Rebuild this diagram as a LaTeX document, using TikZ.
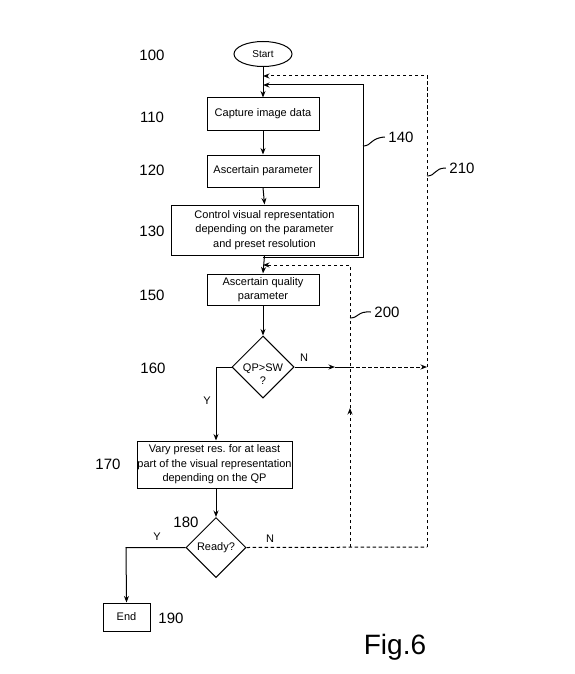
\documentclass[tikz,border=0pt]{standalone}
\usepackage{fontspec}
\setmainfont{Liberation Sans}
\usetikzlibrary{arrows.meta,shapes.geometric}
\begin{document}
\begin{tikzpicture}[x=1pt,y=-1pt,
  ln/.style={line width=1pt},
  arr/.style={ln,-{Stealth[length=6.5pt,width=5pt]}},
  dsh/.style={ln,dash pattern=on 3.5pt off 2.5pt},
  darr/.style={dsh,-{Stealth[length=6.5pt,width=5pt]}},
  box/.style={draw,ln,inner sep=0pt,align=center,font=\fontsize{11}{14.5}\selectfont},
  dia/.style={draw,ln,diamond,inner sep=-20pt,minimum width=#1,minimum height=#1},
  num/.style={font=\fontsize{15}{17}\selectfont},
  txt/.style={font=\fontsize{11}{13}\selectfont,inner sep=0pt,align=center}]
\useasboundingbox (0,0) rectangle (574,674);
% nodes
\node[draw,ln,ellipse,minimum width=58,minimum height=25,inner sep=0pt,font=\fontsize{10}{12}\selectfont] (start) at (263,54) {Start};
\node[box,minimum width=112,minimum height=32] (n110) at (263,114) {Capture image data};
\node[box,minimum width=112,minimum height=32] (n120) at (263,171) {Ascertain parameter};
\node[box,minimum width=187,minimum height=50] (n130) at (264.5,230) {Control visual representation\\depending on the parameter\\and preset resolution};
\node[box,minimum width=112,minimum height=31] (n150) at (263,289.5) {Ascertain quality\\parameter};
\node[dia=62] (d160) at (263,367) {};
\node[txt] (t160) at (263,374) {QP>SW\\?};
\node[box,minimum width=155,minimum height=47] (n170) at (214.5,464.5) {Vary preset res.\ for at least\\part of the visual representation\\depending on the QP};
\node[dia=60] (d180) at (216,547.5) {};
\node[txt] (t180) at (216,548) {Ready?};
\node[box,minimum width=47,minimum height=28] (n190) at (126.5,617) {End};
% reference numbers
\node[num] (l100) at (152,55) {100};
\node[num] (l110) at (152,117) {110};
\node[num] (l120) at (152,170) {120};
\node[num] (l130) at (152,231) {130};
\node[num] (l150) at (152,295) {150};
\node[num] (l160) at (153,368) {160};
\node[num] (l170) at (108,464) {170};
\node[num] (l180) at (186,522) {180};
\node[num] (l190) at (171,618) {190};
\node[num] (l140) at (401,137) {140};
\node[num] (l210) at (462,168) {210};
\node[num] (l200) at (387,312) {200};
\node[font=\fontsize{28}{30}\selectfont] (fig) at (395,647) {Fig.6};
% Y / N
\node[txt] (y160) at (207,401) {Y};
\node[txt] (n160) at (304,358) {N};
\node[txt] (y180) at (157,537) {Y};
\node[txt] (n180) at (270,539) {N};
% junction coordinates
\coordinate (j76) at (263,76);
\coordinate (j85) at (263,85);
\coordinate (j257) at (263,257);
\coordinate (j265) at (263,265);
\coordinate (c140a) at (363,257);
\coordinate (c140b) at (363,85);
\coordinate (c210a) at (427,76);
\coordinate (c210m) at (427,367);
\coordinate (c210b) at (427,547);
\coordinate (c200a) at (350,265);
\coordinate (c200m) at (350,367);
\coordinate (c200b) at (350,547);
\coordinate (c200arr) at (350,408);
\coordinate (cN) at (335,367);
\coordinate (cY1) at (216,367);
\coordinate (cY2) at (126,547.5);
% main flow
\draw[arr] (start.south) -- (n110.north);
\draw[arr] (n110.south) -- (n120.north);
\draw[arr] (n120.south) -- (n130.north);
\draw[arr] (n130.south) -- (n150.north);
\draw[arr] (n150.south) -- (d160.north);
\draw[arr] (d160.west) -- (cY1) -- (n170.north -| cY1);
\draw[arr] (n170.south -| d180.north) -- (d180.north);
\draw[arr] (d180.west) -- (cY2) -- (n190.north);
% loop 140
\draw[arr] (j257) -- (c140a) -- (c140b) -- (j85);
% N of 160
\draw[arr] (d160.east) -- (cN);
\draw[ln] (cN) -- (c200m);
\draw[darr] (c200m) -- (c210m);
% N of 180, loops 200 and 210
\draw[dsh] (d180.east) -- (c210b);
\draw[darr] (c210b) -- (c210a) -- (j76);
\draw[darr] (c200b) -- (c200arr);
\draw[darr] (c200arr) -- (c200a) -- (j265);
% leader ticks
\draw[ln] (363,146) .. controls (372,146) and (370,138) .. (l140.west);
\draw[ln] (427,176) .. controls (436,176) and (434,168) .. (l210.west);
\draw[ln] (350,318) .. controls (359,318) and (357,311) .. (l200.west);
\end{tikzpicture}
\end{document}
